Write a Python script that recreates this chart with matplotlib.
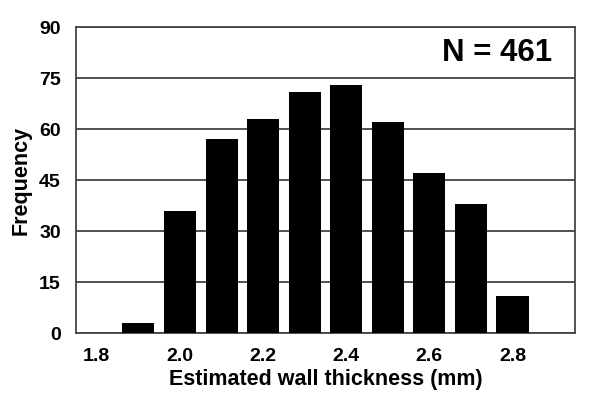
import numpy as np
import matplotlib.pyplot as plt

plt.rcParams['font.family'] = ['Liberation Sans', 'DejaVu Sans']
plt.rcParams['font.weight'] = 'bold'

# wall thickness classes (mm) and counts
thickness = ['1.8', '1.9', '2.0', '2.1', '2.2', '2.3', '2.4', '2.5', '2.6', '2.7', '2.8', '2.9']
counts = [0, 3, 36, 57, 63, 71, 73, 62, 47, 38, 11, 0]
yticks = [0, 15, 30, 45, 60, 75, 90]

fig = plt.figure(figsize=(6.01, 4.18), dpi=100)
ax = fig.add_axes([0.1265, 0.2033, 0.83, 0.7321])

x = np.arange(len(thickness))
ax.bar(x, counts, width=0.77, color='black', zorder=3)

ax.set_xlim(-0.5, len(thickness) - 0.5)
ax.set_ylim(0, 90)
ax.set_yticks(yticks)
ax.set_xticks(x[::2])
ax.set_xticklabels(thickness[::2])
ax.tick_params(length=0, labelsize=14)
ax.tick_params(axis='y', pad=11)
ax.tick_params(axis='x', pad=11)
ax.yaxis.grid(True, color='#333333', linewidth=1.2, zorder=1)
for s in ax.spines.values():
    s.set_color('#444444')
    s.set_linewidth(1.3)

ax.set_xlabel('Estimated wall thickness (mm)', fontsize=15.5, fontweight='bold', labelpad=3)
ax.set_ylabel('Frequency', fontsize=15.5, fontweight='bold', labelpad=5)

ax.text(0.955, 0.915, 'N = 461', transform=ax.transAxes, ha='right', va='center',
        fontsize=22.5, fontweight='bold')

fig.savefig('out.png', dpi=100)
